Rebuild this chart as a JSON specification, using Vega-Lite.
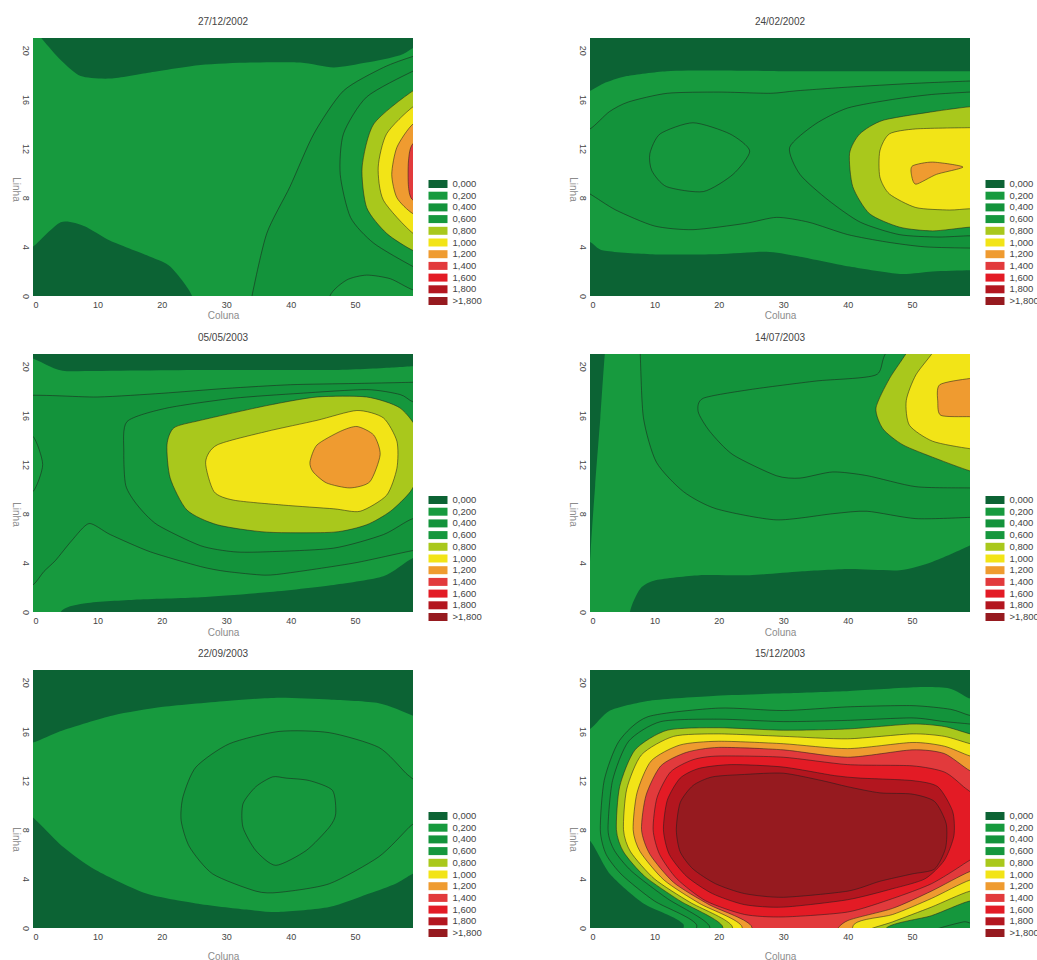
{
"$schema": "https://vega.github.io/schema/vega-lite/v6.json",
"background": "white",
"padding": {"left": 10, "top": 17, "right": 2, "bottom": 2},
"config": {
 "view": {"stroke": null, "fill": "#0c6334"},
 "font": "Liberation Sans",
 "title": {"fontSize": 10, "fontWeight": "normal", "color": "#444444", "offset": 11},
 "axis": {"grid": false, "ticks": false, "domain": false, "labelFontSize": 9, "labelColor": "#444444", "labelPadding": 4, "titleFontSize": 10, "titleFontWeight": "normal", "titleColor": "#8c8c8c"},
 "axisX": {"titleBaseline": "middle"},
 "axisY": {"labelAngle": 90, "titleAngle": 90, "titleX": -18, "titleAlign": "center", "titleBaseline": "middle"},
 "legend": {"orient": "none", "legendX": 400, "legendY": 141, "symbolType": "M-1.9,-0.8L1.9,-0.8L1.9,0.8L-1.9,0.8Z", "symbolSize": 100, "symbolStrokeWidth": 0, "symbolOpacity": 1, "labelFontSize": 9.5, "labelColor": "#444444", "labelOffset": 9.5, "rowPadding": 1.7, "padding": 0}
},
"datasets": {
 "p1": [
  {"g":1,"l":1,"x":-3,"y":24},{"g":1,"l":1,"x":0.5,"y":21.5},{"g":1,"l":1,"x":4.3,"y":19.2},{"g":1,"l":1,"x":7.4,"y":17.9},{"g":1,"l":1,"x":12,"y":17.7},{"g":1,"l":1,"x":18.2,"y":18.2},{"g":1,"l":1,"x":26,"y":18.8},{"g":1,"l":1,"x":33.7,"y":19.0},{"g":1,"l":1,"x":41.5,"y":19.0},{"g":1,"l":1,"x":46.7,"y":18.6},{"g":1,"l":1,"x":51.8,"y":19.0},{"g":1,"l":1,"x":57,"y":19.6},{"g":1,"l":1,"x":60,"y":20.5},{"g":1,"l":1,"x":63,"y":21},{"g":1,"l":1,"x":63,"y":-3},{"g":1,"l":1,"x":25,"y":-3},{"g":1,"l":1,"x":24.7,"y":0},{"g":1,"l":1,"x":21.3,"y":2.4},{"g":1,"l":1,"x":18.2,"y":3.2},{"g":1,"l":1,"x":12,"y":4.5},{"g":1,"l":1,"x":7.9,"y":5.7},{"g":1,"l":1,"x":4.3,"y":6.0},{"g":1,"l":1,"x":0,"y":4.0},{"g":1,"l":1,"x":-3,"y":3},
  {"g":2,"l":2,"x":33.2,"y":-3},{"g":2,"l":2,"x":34,"y":0},{"g":2,"l":2,"x":36.3,"y":5.1},{"g":2,"l":2,"x":39.9,"y":8.9},{"g":2,"l":2,"x":43.6,"y":13.2},{"g":2,"l":2,"x":48.2,"y":16.7},{"g":2,"l":2,"x":54.4,"y":18.6},{"g":2,"l":2,"x":59,"y":19.5},{"g":2,"l":2,"x":63,"y":20},{"g":2,"l":2,"x":63,"y":0.2},{"g":2,"l":2,"x":59,"y":0.5},{"g":2,"l":2,"x":55.5,"y":1.4},{"g":2,"l":2,"x":51.8,"y":1.7},{"g":2,"l":2,"x":48.7,"y":1.3},{"g":2,"l":2,"x":46.1,"y":0},{"g":2,"l":2,"x":45.5,"y":-3},
  {"g":3,"l":3,"x":63,"y":19},{"g":3,"l":3,"x":59,"y":18.3},{"g":3,"l":3,"x":51.8,"y":16.2},{"g":3,"l":3,"x":48.2,"y":13.2},{"g":3,"l":3,"x":47.7,"y":9.9},{"g":3,"l":3,"x":49.3,"y":6.4},{"g":3,"l":3,"x":52.9,"y":4.3},{"g":3,"l":3,"x":59,"y":2.4},{"g":3,"l":3,"x":63,"y":1.5},
  {"g":4,"l":4,"x":63,"y":17.5},{"g":4,"l":4,"x":59,"y":16.7},{"g":4,"l":4,"x":52.9,"y":14.0},{"g":4,"l":4,"x":51.1,"y":10.5},{"g":4,"l":4,"x":51.8,"y":7.2},{"g":4,"l":4,"x":54.9,"y":5.1},{"g":4,"l":4,"x":59,"y":3.7},{"g":4,"l":4,"x":63,"y":3},
  {"g":5,"l":5,"x":63,"y":16.3},{"g":5,"l":5,"x":59,"y":15.4},{"g":5,"l":5,"x":54.9,"y":13.2},{"g":5,"l":5,"x":53.6,"y":10.5},{"g":5,"l":5,"x":54.4,"y":7.8},{"g":5,"l":5,"x":59,"y":5.1},{"g":5,"l":5,"x":63,"y":4.3},
  {"g":6,"l":6,"x":63,"y":15},{"g":6,"l":6,"x":59,"y":14.0},{"g":6,"l":6,"x":56.5,"y":12.1},{"g":6,"l":6,"x":55.7,"y":9.9},{"g":6,"l":6,"x":56.5,"y":8.0},{"g":6,"l":6,"x":59,"y":6.7},{"g":6,"l":6,"x":63,"y":6},
  {"g":7,"l":7,"x":63,"y":13.5},{"g":7,"l":7,"x":59,"y":12.4},{"g":7,"l":7,"x":58.3,"y":11},{"g":7,"l":7,"x":58.3,"y":8.9},{"g":7,"l":7,"x":59,"y":7.8},{"g":7,"l":7,"x":63,"y":7}
 ],
 "p2": [
  {"g":1,"l":1,"x":-3,"y":16.3},{"g":1,"l":1,"x":0,"y":16.7},{"g":1,"l":1,"x":2.1,"y":17.3},{"g":1,"l":1,"x":5.7,"y":17.9},{"g":1,"l":1,"x":11.9,"y":18.3},{"g":1,"l":1,"x":19.6,"y":18.35},{"g":1,"l":1,"x":30,"y":18.3},{"g":1,"l":1,"x":40.3,"y":18.3},{"g":1,"l":1,"x":50.6,"y":18.3},{"g":1,"l":1,"x":59,"y":18.3},{"g":1,"l":1,"x":63,"y":18.3},{"g":1,"l":1,"x":63,"y":2.1},{"g":1,"l":1,"x":59,"y":2.1},{"g":1,"l":1,"x":53.2,"y":2.0},{"g":1,"l":1,"x":48.1,"y":1.8},{"g":1,"l":1,"x":40.3,"y":2.4},{"g":1,"l":1,"x":32.6,"y":3.2},{"g":1,"l":1,"x":27.4,"y":3.6},{"g":1,"l":1,"x":19.6,"y":3.4},{"g":1,"l":1,"x":9.3,"y":3.4},{"g":1,"l":1,"x":2.1,"y":3.7},{"g":1,"l":1,"x":0,"y":4.4},{"g":1,"l":1,"x":-3,"y":4.8},
  {"g":2,"l":2,"x":-3,"y":13.3},{"g":2,"l":2,"x":0,"y":13.6},{"g":2,"l":2,"x":3,"y":15.0},{"g":2,"l":2,"x":6,"y":15.8},{"g":2,"l":2,"x":12,"y":16.5},{"g":2,"l":2,"x":20,"y":16.6},{"g":2,"l":2,"x":28,"y":16.5},{"g":2,"l":2,"x":32,"y":16.7},{"g":2,"l":2,"x":40,"y":17.0},{"g":2,"l":2,"x":50,"y":17.3},{"g":2,"l":2,"x":59,"y":17.5},{"g":2,"l":2,"x":63,"y":17.6},{"g":2,"l":2,"x":63,"y":3.9},{"g":2,"l":2,"x":59,"y":3.9},{"g":2,"l":2,"x":52,"y":4.0},{"g":2,"l":2,"x":46,"y":4.4},{"g":2,"l":2,"x":40,"y":5.0},{"g":2,"l":2,"x":34,"y":6.0},{"g":2,"l":2,"x":29,"y":6.4},{"g":2,"l":2,"x":24,"y":5.9},{"g":2,"l":2,"x":16,"y":5.4},{"g":2,"l":2,"x":10,"y":5.7},{"g":2,"l":2,"x":4,"y":7.0},{"g":2,"l":2,"x":0,"y":8.3},{"g":2,"l":2,"x":-3,"y":9},
  {"g":3,"l":3,"x":9.3,"y":11.6},{"g":3,"l":3,"x":10.9,"y":13.2},{"g":3,"l":3,"x":16,"y":14.1},{"g":3,"l":3,"x":21.7,"y":13.2},{"g":3,"l":3,"x":24.8,"y":11.8},{"g":3,"l":3,"x":22.2,"y":9.9},{"g":3,"l":3,"x":17.6,"y":8.5},{"g":3,"l":3,"x":11.9,"y":8.9},{"g":3,"l":3,"x":9.6,"y":10.2},
  {"g":4,"l":3,"x":31,"y":12.1},{"g":4,"l":3,"x":35,"y":14.0},{"g":4,"l":3,"x":40,"y":15.3},{"g":4,"l":3,"x":47,"y":16.0},{"g":4,"l":3,"x":53,"y":16.4},{"g":4,"l":3,"x":59,"y":16.6},{"g":4,"l":3,"x":63,"y":16.7},{"g":4,"l":3,"x":63,"y":4.8},{"g":4,"l":3,"x":59,"y":4.9},{"g":4,"l":3,"x":54,"y":4.8},{"g":4,"l":3,"x":48,"y":5.0},{"g":4,"l":3,"x":42,"y":6.0},{"g":4,"l":3,"x":37,"y":7.8},{"g":4,"l":3,"x":32.6,"y":9.9},
  {"g":5,"l":4,"x":63,"y":15.5},{"g":5,"l":4,"x":58.9,"y":15.4},{"g":5,"l":4,"x":53.2,"y":15.0},{"g":5,"l":4,"x":45.5,"y":14.3},{"g":5,"l":4,"x":41.9,"y":13.2},{"g":5,"l":4,"x":40.3,"y":11.6},{"g":5,"l":4,"x":40.8,"y":8.9},{"g":5,"l":4,"x":43.4,"y":6.7},{"g":5,"l":4,"x":48.1,"y":5.6},{"g":5,"l":4,"x":53.2,"y":5.3},{"g":5,"l":4,"x":58.9,"y":5.6},{"g":5,"l":4,"x":63,"y":5.6},
  {"g":6,"l":5,"x":63,"y":13.7},{"g":6,"l":5,"x":58.9,"y":13.7},{"g":6,"l":5,"x":50.6,"y":13.6},{"g":6,"l":5,"x":46.5,"y":13.2},{"g":6,"l":5,"x":45,"y":11.8},{"g":6,"l":5,"x":45,"y":9.7},{"g":6,"l":5,"x":46.5,"y":8.3},{"g":6,"l":5,"x":50.6,"y":7.2},{"g":6,"l":5,"x":55.8,"y":7.0},{"g":6,"l":5,"x":58.9,"y":7.1},{"g":6,"l":5,"x":63,"y":7.1},
  {"g":7,"l":6,"x":50.1,"y":10.6},{"g":7,"l":6,"x":53.2,"y":10.9},{"g":7,"l":6,"x":57.9,"y":10.5},{"g":7,"l":6,"x":53.8,"y":9.9},{"g":7,"l":6,"x":50.6,"y":9.1},{"g":7,"l":6,"x":49.9,"y":9.9}
 ],
 "p3": [
  {"g":1,"l":1,"x":-3,"y":19.6},{"g":1,"l":1,"x":5.3,"y":19.6},{"g":1,"l":1,"x":26,"y":19.7},{"g":1,"l":1,"x":46.7,"y":19.7},{"g":1,"l":1,"x":56,"y":19.9},{"g":1,"l":1,"x":59,"y":20},{"g":1,"l":1,"x":63,"y":20},{"g":1,"l":1,"x":63,"y":4.8},{"g":1,"l":1,"x":59,"y":4.4},{"g":1,"l":1,"x":54.4,"y":2.9},{"g":1,"l":1,"x":46.7,"y":2.2},{"g":1,"l":1,"x":36.3,"y":1.6},{"g":1,"l":1,"x":26,"y":1.2},{"g":1,"l":1,"x":15.7,"y":1.0},{"g":1,"l":1,"x":7.9,"y":0.7},{"g":1,"l":1,"x":4.3,"y":0},{"g":1,"l":1,"x":4,"y":-3},{"g":1,"l":1,"x":-3,"y":-3},
  {"g":2,"l":2,"x":-3,"y":17.5},{"g":2,"l":2,"x":10,"y":17.5},{"g":2,"l":2,"x":20,"y":17.8},{"g":2,"l":2,"x":30,"y":18.2},{"g":2,"l":2,"x":40,"y":18.5},{"g":2,"l":2,"x":50,"y":18.6},{"g":2,"l":2,"x":59,"y":18.7},{"g":2,"l":2,"x":63,"y":18.8},{"g":2,"l":2,"x":63,"y":5.2},{"g":2,"l":2,"x":59,"y":5.0},{"g":2,"l":2,"x":50,"y":4.0},{"g":2,"l":2,"x":40,"y":3.2},{"g":2,"l":2,"x":36,"y":3.0},{"g":2,"l":2,"x":30,"y":3.3},{"g":2,"l":2,"x":26,"y":3.7},{"g":2,"l":2,"x":18.2,"y":4.9},{"g":2,"l":2,"x":12,"y":6.3},{"g":2,"l":2,"x":8.7,"y":7.2},{"g":2,"l":2,"x":6,"y":5.8},{"g":2,"l":2,"x":3.5,"y":4.2},{"g":2,"l":2,"x":1.7,"y":3.3},{"g":2,"l":2,"x":0,"y":2.2},{"g":2,"l":2,"x":-3,"y":1.5},{"g":2,"l":2,"x":-3,"y":9.5},{"g":2,"l":2,"x":0,"y":9.8},{"g":2,"l":2,"x":1.5,"y":12},{"g":2,"l":2,"x":0,"y":14.3},{"g":2,"l":2,"x":-3,"y":14.6},
  {"g":3,"l":3,"x":14.6,"y":15.5},{"g":3,"l":3,"x":20.8,"y":16.6},{"g":3,"l":3,"x":31.2,"y":17.4},{"g":3,"l":3,"x":41.5,"y":17.8},{"g":3,"l":3,"x":51.8,"y":18.1},{"g":3,"l":3,"x":57,"y":17.7},{"g":3,"l":3,"x":59,"y":17.1},{"g":3,"l":3,"x":63,"y":16.5},{"g":3,"l":3,"x":63,"y":7.5},{"g":3,"l":3,"x":59,"y":7.6},{"g":3,"l":3,"x":54.4,"y":6.3},{"g":3,"l":3,"x":46.7,"y":5.2},{"g":3,"l":3,"x":36.3,"y":4.9},{"g":3,"l":3,"x":31.2,"y":4.9},{"g":3,"l":3,"x":26,"y":5.4},{"g":3,"l":3,"x":19.3,"y":7.1},{"g":3,"l":3,"x":16.2,"y":8.7},{"g":3,"l":3,"x":14.4,"y":10.3},{"g":3,"l":3,"x":14.1,"y":13.0},
  {"g":4,"l":4,"x":20.8,"y":13.6},{"g":4,"l":4,"x":21.9,"y":15.0},{"g":4,"l":4,"x":26,"y":15.6},{"g":4,"l":4,"x":36.3,"y":16.8},{"g":4,"l":4,"x":44.1,"y":17.5},{"g":4,"l":4,"x":51.8,"y":17.5},{"g":4,"l":4,"x":57,"y":16.6},{"g":4,"l":4,"x":60,"y":14.5},{"g":4,"l":4,"x":60,"y":11.5},{"g":4,"l":4,"x":58.6,"y":9.8},{"g":4,"l":4,"x":55.5,"y":8.2},{"g":4,"l":4,"x":51.8,"y":7.1},{"g":4,"l":4,"x":46.7,"y":6.5},{"g":4,"l":4,"x":36.3,"y":6.5},{"g":4,"l":4,"x":28.6,"y":7.1},{"g":4,"l":4,"x":23.9,"y":8.3},{"g":4,"l":4,"x":21.3,"y":10.9},
  {"g":5,"l":5,"x":26.8,"y":12.2},{"g":5,"l":5,"x":28.6,"y":13.6},{"g":5,"l":5,"x":36.3,"y":14.7},{"g":5,"l":5,"x":44.1,"y":15.6},{"g":5,"l":5,"x":50.3,"y":16.4},{"g":5,"l":5,"x":54.4,"y":15.8},{"g":5,"l":5,"x":56.5,"y":13.9},{"g":5,"l":5,"x":56.5,"y":11.7},{"g":5,"l":5,"x":54.9,"y":9.5},{"g":5,"l":5,"x":50.8,"y":8.2},{"g":5,"l":5,"x":46.7,"y":8.4},{"g":5,"l":5,"x":38.9,"y":8.7},{"g":5,"l":5,"x":31.2,"y":9.1},{"g":5,"l":5,"x":28.1,"y":9.8},
  {"g":6,"l":6,"x":43,"y":12.2},{"g":6,"l":6,"x":44.1,"y":13.6},{"g":6,"l":6,"x":47.7,"y":14.7},{"g":6,"l":6,"x":50.3,"y":15.1},{"g":6,"l":6,"x":52.9,"y":14.4},{"g":6,"l":6,"x":53.9,"y":12.8},{"g":6,"l":6,"x":52.3,"y":10.6},{"g":6,"l":6,"x":49.2,"y":10.1},{"g":6,"l":6,"x":45.6,"y":10.5},{"g":6,"l":6,"x":43.5,"y":11.4}
 ],
 "p4": [
  {"g":1,"l":1,"x":3,"y":24},{"g":1,"l":1,"x":2.3,"y":21},{"g":1,"l":1,"x":1.6,"y":15.8},{"g":1,"l":1,"x":0.8,"y":10.3},{"g":1,"l":1,"x":0.1,"y":4.9},{"g":1,"l":1,"x":-0.5,"y":-3},{"g":1,"l":1,"x":6,"y":-3},{"g":1,"l":1,"x":6.2,"y":0},{"g":1,"l":1,"x":7.8,"y":1.9},{"g":1,"l":1,"x":10.3,"y":2.6},{"g":1,"l":1,"x":17,"y":3.0},{"g":1,"l":1,"x":24.8,"y":3.0},{"g":1,"l":1,"x":32.6,"y":3.3},{"g":1,"l":1,"x":40.3,"y":3.5},{"g":1,"l":1,"x":48.1,"y":3.4},{"g":1,"l":1,"x":53.2,"y":4.1},{"g":1,"l":1,"x":58.9,"y":5.4},{"g":1,"l":1,"x":63,"y":6.5},{"g":1,"l":1,"x":63,"y":24},
  {"g":2,"l":2,"x":7.6,"y":24},{"g":2,"l":2,"x":7.8,"y":21},{"g":2,"l":2,"x":8.3,"y":15.8},{"g":2,"l":2,"x":10.3,"y":12.2},{"g":2,"l":2,"x":14.5,"y":9.8},{"g":2,"l":2,"x":19.6,"y":8.4},{"g":2,"l":2,"x":28.9,"y":7.5},{"g":2,"l":2,"x":37.7,"y":8.0},{"g":2,"l":2,"x":43,"y":8.2},{"g":2,"l":2,"x":50.6,"y":7.6},{"g":2,"l":2,"x":58.9,"y":7.7},{"g":2,"l":2,"x":63,"y":7.8},{"g":2,"l":2,"x":63,"y":24},
  {"g":3,"l":3,"x":17.6,"y":17.4},{"g":3,"l":3,"x":24.8,"y":18.1},{"g":3,"l":3,"x":35.1,"y":18.8},{"g":3,"l":3,"x":44.4,"y":19.3},{"g":3,"l":3,"x":47,"y":21.5},{"g":3,"l":3,"x":63,"y":23},{"g":3,"l":3,"x":63,"y":10.1},{"g":3,"l":3,"x":58.9,"y":10.1},{"g":3,"l":3,"x":50.6,"y":10.2},{"g":3,"l":3,"x":43,"y":11.1},{"g":3,"l":3,"x":37.7,"y":11.4},{"g":3,"l":3,"x":32.6,"y":10.9},{"g":3,"l":3,"x":28.9,"y":11.1},{"g":3,"l":3,"x":22.2,"y":12.8},{"g":3,"l":3,"x":18.6,"y":14.7},{"g":3,"l":3,"x":16.8,"y":16.3},
  {"g":4,"l":4,"x":49.6,"y":21.5},{"g":4,"l":4,"x":46.5,"y":19.0},{"g":4,"l":4,"x":44.4,"y":16.6},{"g":4,"l":4,"x":45.5,"y":14.9},{"g":4,"l":4,"x":48.6,"y":13.6},{"g":4,"l":4,"x":53.7,"y":12.5},{"g":4,"l":4,"x":58.9,"y":11.5},{"g":4,"l":4,"x":63,"y":11},{"g":4,"l":4,"x":63,"y":23},{"g":4,"l":4,"x":50,"y":23},
  {"g":5,"l":5,"x":53.7,"y":21.5},{"g":5,"l":5,"x":50.6,"y":19.3},{"g":5,"l":5,"x":49.1,"y":17.2},{"g":5,"l":5,"x":49.6,"y":15.2},{"g":5,"l":5,"x":53.2,"y":13.9},{"g":5,"l":5,"x":58.9,"y":13.3},{"g":5,"l":5,"x":63,"y":13.2},{"g":5,"l":5,"x":63,"y":23},{"g":5,"l":5,"x":54,"y":23},
  {"g":6,"l":6,"x":63,"y":19.1},{"g":6,"l":6,"x":58.9,"y":19.0},{"g":6,"l":6,"x":54.3,"y":18.5},{"g":6,"l":6,"x":54,"y":17.1},{"g":6,"l":6,"x":54.5,"y":16.0},{"g":6,"l":6,"x":58.9,"y":15.9},{"g":6,"l":6,"x":63,"y":15.9}
 ],
 "p5": [
  {"g":1,"l":1,"x":-3,"y":15},{"g":1,"l":1,"x":0,"y":15.1},{"g":1,"l":1,"x":4.7,"y":16.1},{"g":1,"l":1,"x":12.4,"y":17.3},{"g":1,"l":1,"x":20.2,"y":18.0},{"g":1,"l":1,"x":30.5,"y":18.5},{"g":1,"l":1,"x":38.2,"y":18.75},{"g":1,"l":1,"x":46,"y":18.6},{"g":1,"l":1,"x":53.7,"y":18.3},{"g":1,"l":1,"x":58.9,"y":17.3},{"g":1,"l":1,"x":62,"y":16.5},{"g":1,"l":1,"x":62,"y":5},{"g":1,"l":1,"x":58.9,"y":4.4},{"g":1,"l":1,"x":56.3,"y":3.6},{"g":1,"l":1,"x":52.2,"y":2.8},{"g":1,"l":1,"x":46,"y":1.7},{"g":1,"l":1,"x":38.2,"y":1.3},{"g":1,"l":1,"x":33.1,"y":1.5},{"g":1,"l":1,"x":25.3,"y":2.0},{"g":1,"l":1,"x":17.6,"y":2.8},{"g":1,"l":1,"x":9.8,"y":4.7},{"g":1,"l":1,"x":4.7,"y":6.6},{"g":1,"l":1,"x":0,"y":9.0},{"g":1,"l":1,"x":-3,"y":10},
  {"g":2,"l":2,"x":23.3,"y":10.7},{"g":2,"l":2,"x":25.3,"y":13.1},{"g":2,"l":2,"x":30.5,"y":15.0},{"g":2,"l":2,"x":38.2,"y":16.0},{"g":2,"l":2,"x":46,"y":15.9},{"g":2,"l":2,"x":53.7,"y":14.7},{"g":2,"l":2,"x":57.9,"y":12.6},{"g":2,"l":2,"x":60,"y":11.5},{"g":2,"l":2,"x":60,"y":9},{"g":2,"l":2,"x":58.4,"y":8.2},{"g":2,"l":2,"x":53.7,"y":5.8},{"g":2,"l":2,"x":46,"y":3.6},{"g":2,"l":2,"x":38.2,"y":2.9},{"g":2,"l":2,"x":34.6,"y":3.0},{"g":2,"l":2,"x":27.9,"y":4.4},{"g":2,"l":2,"x":24.3,"y":6.6},{"g":2,"l":2,"x":23,"y":8.75},
  {"g":3,"l":3,"x":37.2,"y":12.3},{"g":3,"l":3,"x":39.3,"y":12.2},{"g":3,"l":3,"x":42.9,"y":12.0},{"g":3,"l":3,"x":46.5,"y":11.2},{"g":3,"l":3,"x":47,"y":9.3},{"g":3,"l":3,"x":46,"y":8.2},{"g":3,"l":3,"x":42.4,"y":6.3},{"g":3,"l":3,"x":37.7,"y":5.1},{"g":3,"l":3,"x":34.6,"y":6.3},{"g":3,"l":3,"x":32.6,"y":8.2},{"g":3,"l":3,"x":32.6,"y":10.1},{"g":3,"l":3,"x":34.6,"y":11.5}
 ],
 "p6": [
  {"g":1,"l":1,"x":-3,"y":16},{"g":1,"l":1,"x":0,"y":16.2},{"g":1,"l":1,"x":3.1,"y":17.7},{"g":1,"l":1,"x":9.3,"y":18.5},{"g":1,"l":1,"x":19.6,"y":18.9},{"g":1,"l":1,"x":30,"y":19.1},{"g":1,"l":1,"x":40.3,"y":19.3},{"g":1,"l":1,"x":50.6,"y":19.6},{"g":1,"l":1,"x":55.8,"y":19.5},{"g":1,"l":1,"x":58.8,"y":18.7},{"g":1,"l":1,"x":62,"y":18},{"g":1,"l":1,"x":62,"y":-3},{"g":1,"l":1,"x":15,"y":-3},{"g":1,"l":1,"x":14.5,"y":0.3},{"g":1,"l":1,"x":8.3,"y":2.0},{"g":1,"l":1,"x":3.1,"y":4.4},{"g":1,"l":1,"x":0,"y":7.1},{"g":1,"l":1,"x":-3,"y":7.5},
  {"g":2,"l":2,"x":1.6,"y":8},{"g":2,"l":2,"x":2.2,"y":12},{"g":2,"l":2,"x":4.5,"y":15.2},{"g":2,"l":2,"x":9,"y":17.2},{"g":2,"l":2,"x":20,"y":17.9},{"g":2,"l":2,"x":30,"y":17.7},{"g":2,"l":2,"x":40,"y":18.0},{"g":2,"l":2,"x":50,"y":18.1},{"g":2,"l":2,"x":56,"y":17.8},{"g":2,"l":2,"x":59,"y":17.3},{"g":2,"l":2,"x":63,"y":17},{"g":2,"l":2,"x":63,"y":-3},{"g":2,"l":2,"x":17,"y":-3},{"g":2,"l":2,"x":16.5,"y":0.3},{"g":2,"l":2,"x":10,"y":2.2},{"g":2,"l":2,"x":5,"y":4.3},{"g":2,"l":2,"x":2.5,"y":6},
  {"g":3,"l":3,"x":2.8,"y":8},{"g":3,"l":3,"x":3.5,"y":12},{"g":3,"l":3,"x":6,"y":15.2},{"g":3,"l":3,"x":11,"y":16.8},{"g":3,"l":3,"x":20,"y":17.0},{"g":3,"l":3,"x":30,"y":16.8},{"g":3,"l":3,"x":40,"y":16.9},{"g":3,"l":3,"x":50,"y":17.1},{"g":3,"l":3,"x":55,"y":16.8},{"g":3,"l":3,"x":59,"y":16.6},{"g":3,"l":3,"x":63,"y":16.3},{"g":3,"l":3,"x":63,"y":0.8},{"g":3,"l":3,"x":58,"y":0.5},{"g":3,"l":3,"x":52,"y":-0.5},{"g":3,"l":3,"x":48,"y":-3},{"g":3,"l":3,"x":19,"y":-3},{"g":3,"l":3,"x":18.5,"y":0.2},{"g":3,"l":3,"x":12,"y":2.4},{"g":3,"l":3,"x":6.5,"y":4.6},{"g":3,"l":3,"x":3.8,"y":6.3},
  {"g":4,"l":4,"x":4.1,"y":8},{"g":4,"l":4,"x":4.6,"y":11.5},{"g":4,"l":4,"x":7,"y":14.5},{"g":4,"l":4,"x":12,"y":16.1},{"g":4,"l":4,"x":20,"y":16.3},{"g":4,"l":4,"x":30,"y":16.1},{"g":4,"l":4,"x":40,"y":16.2},{"g":4,"l":4,"x":50,"y":16.6},{"g":4,"l":4,"x":55,"y":16.4},{"g":4,"l":4,"x":59,"y":15.8},{"g":4,"l":4,"x":63,"y":15.3},{"g":4,"l":4,"x":63,"y":2},{"g":4,"l":4,"x":59,"y":2.2},{"g":4,"l":4,"x":53,"y":1.0},{"g":4,"l":4,"x":46,"y":0},{"g":4,"l":4,"x":44,"y":-3},{"g":4,"l":4,"x":21,"y":-3},{"g":4,"l":4,"x":20.5,"y":0.2},{"g":4,"l":4,"x":14,"y":2.2},{"g":4,"l":4,"x":8.5,"y":4.2},{"g":4,"l":4,"x":5.2,"y":6.2},
  {"g":5,"l":5,"x":5.2,"y":8},{"g":5,"l":5,"x":5.7,"y":11.3},{"g":5,"l":5,"x":8,"y":14.1},{"g":5,"l":5,"x":13,"y":15.6},{"g":5,"l":5,"x":20,"y":15.8},{"g":5,"l":5,"x":30,"y":15.6},{"g":5,"l":5,"x":40,"y":15.4},{"g":5,"l":5,"x":50,"y":15.8},{"g":5,"l":5,"x":55,"y":15.6},{"g":5,"l":5,"x":59,"y":15.0},{"g":5,"l":5,"x":63,"y":14.5},{"g":5,"l":5,"x":63,"y":3},{"g":5,"l":5,"x":59,"y":3.0},{"g":5,"l":5,"x":53,"y":1.7},{"g":5,"l":5,"x":47,"y":0.5},{"g":5,"l":5,"x":42,"y":-0.5},{"g":5,"l":5,"x":41,"y":-3},{"g":5,"l":5,"x":22.5,"y":-3},{"g":5,"l":5,"x":22,"y":0.2},{"g":5,"l":5,"x":15.5,"y":2.1},{"g":5,"l":5,"x":10,"y":4},{"g":5,"l":5,"x":6.3,"y":6.2},
  {"g":6,"l":6,"x":6.7,"y":8},{"g":6,"l":6,"x":7.3,"y":11},{"g":6,"l":6,"x":9.5,"y":13.6},{"g":6,"l":6,"x":14,"y":14.9},{"g":6,"l":6,"x":20,"y":15.2},{"g":6,"l":6,"x":30,"y":15.0},{"g":6,"l":6,"x":40,"y":14.6},{"g":6,"l":6,"x":50,"y":15.1},{"g":6,"l":6,"x":55,"y":14.8},{"g":6,"l":6,"x":59,"y":14.0},{"g":6,"l":6,"x":63,"y":13.5},{"g":6,"l":6,"x":63,"y":4},{"g":6,"l":6,"x":59,"y":3.9},{"g":6,"l":6,"x":53,"y":2.4},{"g":6,"l":6,"x":47,"y":1.1},{"g":6,"l":6,"x":41,"y":0.3},{"g":6,"l":6,"x":39.5,"y":-3},{"g":6,"l":6,"x":24,"y":-3},{"g":6,"l":6,"x":23.5,"y":0.2},{"g":6,"l":6,"x":17,"y":2.0},{"g":6,"l":6,"x":11.5,"y":3.9},{"g":6,"l":6,"x":7.8,"y":6.2},
  {"g":7,"l":7,"x":8,"y":8},{"g":7,"l":7,"x":8.7,"y":10.8},{"g":7,"l":7,"x":11,"y":13.2},{"g":7,"l":7,"x":15,"y":14.3},{"g":7,"l":7,"x":20,"y":14.7},{"g":7,"l":7,"x":30,"y":14.5},{"g":7,"l":7,"x":40,"y":13.9},{"g":7,"l":7,"x":50,"y":14.5},{"g":7,"l":7,"x":55,"y":14.2},{"g":7,"l":7,"x":59,"y":12.8},{"g":7,"l":7,"x":63,"y":12},{"g":7,"l":7,"x":63,"y":5},{"g":7,"l":7,"x":59,"y":4.6},{"g":7,"l":7,"x":53,"y":3.0},{"g":7,"l":7,"x":47,"y":1.6},{"g":7,"l":7,"x":40,"y":0.6},{"g":7,"l":7,"x":38,"y":-0.5},{"g":7,"l":7,"x":38,"y":-3},{"g":7,"l":7,"x":25.5,"y":-3},{"g":7,"l":7,"x":25,"y":0.2},{"g":7,"l":7,"x":18.5,"y":1.9},{"g":7,"l":7,"x":13,"y":3.7},{"g":7,"l":7,"x":9.3,"y":6.0},
  {"g":8,"l":8,"x":9.8,"y":8},{"g":8,"l":8,"x":10.4,"y":10.6},{"g":8,"l":8,"x":12.5,"y":12.7},{"g":8,"l":8,"x":16,"y":13.7},{"g":8,"l":8,"x":20,"y":14.0},{"g":8,"l":8,"x":30,"y":13.9},{"g":8,"l":8,"x":40,"y":13.3},{"g":8,"l":8,"x":50,"y":13.2},{"g":8,"l":8,"x":55,"y":12.7},{"g":8,"l":8,"x":58,"y":11.5},{"g":8,"l":8,"x":61,"y":10},{"g":8,"l":8,"x":61,"y":6.5},{"g":8,"l":8,"x":58,"y":5.2},{"g":8,"l":8,"x":53,"y":3.6},{"g":8,"l":8,"x":47,"y":2.4},{"g":8,"l":8,"x":40,"y":1.3},{"g":8,"l":8,"x":30,"y":0.9},{"g":8,"l":8,"x":24,"y":1.1},{"g":8,"l":8,"x":18,"y":2.2},{"g":8,"l":8,"x":13.5,"y":4.0},{"g":8,"l":8,"x":10.8,"y":6.0},
  {"g":9,"l":9,"x":11.4,"y":8},{"g":9,"l":9,"x":12,"y":10.4},{"g":9,"l":9,"x":14,"y":12.2},{"g":9,"l":9,"x":17,"y":13.0},{"g":9,"l":9,"x":22,"y":13.3},{"g":9,"l":9,"x":30,"y":13.1},{"g":9,"l":9,"x":38,"y":12.4},{"g":9,"l":9,"x":42,"y":12.2},{"g":9,"l":9,"x":50,"y":12.0},{"g":9,"l":9,"x":54,"y":11.5},{"g":9,"l":9,"x":56.3,"y":9.5},{"g":9,"l":9,"x":56.5,"y":7.5},{"g":9,"l":9,"x":55,"y":5.5},{"g":9,"l":9,"x":52,"y":4.0},{"g":9,"l":9,"x":47,"y":3.2},{"g":9,"l":9,"x":40,"y":2.3},{"g":9,"l":9,"x":30,"y":1.7},{"g":9,"l":9,"x":24,"y":1.9},{"g":9,"l":9,"x":19,"y":2.8},{"g":9,"l":9,"x":15,"y":4.2},{"g":9,"l":9,"x":12.3,"y":6.0},
  {"g":10,"l":10,"x":13.4,"y":8},{"g":10,"l":10,"x":14,"y":10.2},{"g":10,"l":10,"x":16,"y":11.6},{"g":10,"l":10,"x":19,"y":12.3},{"g":10,"l":10,"x":24,"y":12.5},{"g":10,"l":10,"x":30,"y":12.6},{"g":10,"l":10,"x":36,"y":12.0},{"g":10,"l":10,"x":40,"y":11.5},{"g":10,"l":10,"x":45,"y":11.0},{"g":10,"l":10,"x":50,"y":10.9},{"g":10,"l":10,"x":53.5,"y":10.3},{"g":10,"l":10,"x":55.3,"y":8.5},{"g":10,"l":10,"x":55.2,"y":6.5},{"g":10,"l":10,"x":53.5,"y":4.8},{"g":10,"l":10,"x":50,"y":4.4},{"g":10,"l":10,"x":45,"y":3.8},{"g":10,"l":10,"x":40,"y":3.0},{"g":10,"l":10,"x":30,"y":2.5},{"g":10,"l":10,"x":24,"y":2.8},{"g":10,"l":10,"x":19.5,"y":3.6},{"g":10,"l":10,"x":16,"y":4.8},{"g":10,"l":10,"x":14,"y":6.2}
 ]
},
"columns": 2,
"spacing": {"row": 58, "column": 177},
"bounds": "flush",
"resolve": {"scale": {"fill": "independent"}, "legend": {"fill": "independent"}},
"concat": [
 {"title": "27/12/2002", "width": 380, "height": 258, "data": {"name": "p1"},
  "mark": {"type": "line", "interpolate": "cardinal-closed", "tension": 0.3, "clip": true, "stroke": "#1c1c1c", "strokeWidth": 0.7},
  "encoding": {
   "x": {"field": "x", "type": "quantitative", "scale": {"domain": [0, 59], "nice": false, "zero": false}, "axis": {"values": [0,10,20,30,40,50], "title": "Coluna", "titleY": 19}},
   "y": {"field": "y", "type": "quantitative", "scale": {"domain": [0, 21], "nice": false}, "axis": {"values": [0,4,8,12,16,20], "title": "Linha", "titleY": 151}},
   "fill": {"field": "l", "type": "nominal", "scale": {"domain": [0,1,2,3,4,5,6,7,8,9,10], "range": ["#0c6334","#179a3e","#13933b","#15973d","#a9c81c","#f2e417","#ef9b30","#e23a3c","#e31b25","#b3161f","#961a1f"]}, "legend": {"title": null, "labelExpr": "['0,000','0,200','0,400','0,600','0,800','1,000','1,200','1,400','1,600','1,800','>1,800'][datum.value]"}},
   "detail": {"field": "g"},
   "order": {"value": null},
   "strokeOpacity": {"condition": {"test": "datum.l == 1", "value": 0}, "value": 0.75}
  }},
 {"title": "24/02/2002", "width": 380, "height": 258, "data": {"name": "p2"},
  "mark": {"type": "line", "interpolate": "cardinal-closed", "tension": 0.3, "clip": true, "stroke": "#1c1c1c", "strokeWidth": 0.7},
  "encoding": {
   "x": {"field": "x", "type": "quantitative", "scale": {"domain": [0, 59], "nice": false, "zero": false}, "axis": {"values": [0,10,20,30,40,50], "title": "Coluna", "titleY": 19}},
   "y": {"field": "y", "type": "quantitative", "scale": {"domain": [0, 21], "nice": false}, "axis": {"values": [0,4,8,12,16,20], "title": "Linha", "titleY": 151}},
   "fill": {"field": "l", "type": "nominal", "scale": {"domain": [0,1,2,3,4,5,6,7,8,9,10], "range": ["#0c6334","#179a3e","#13933b","#15973d","#a9c81c","#f2e417","#ef9b30","#e23a3c","#e31b25","#b3161f","#961a1f"]}, "legend": {"title": null, "labelExpr": "['0,000','0,200','0,400','0,600','0,800','1,000','1,200','1,400','1,600','1,800','>1,800'][datum.value]"}},
   "detail": {"field": "g"},
   "order": {"value": null},
   "strokeOpacity": {"condition": {"test": "datum.l == 1", "value": 0}, "value": 0.75}
  }},
 {"title": "05/05/2003", "width": 380, "height": 258, "data": {"name": "p3"},
  "mark": {"type": "line", "interpolate": "cardinal-closed", "tension": 0.3, "clip": true, "stroke": "#1c1c1c", "strokeWidth": 0.7},
  "encoding": {
   "x": {"field": "x", "type": "quantitative", "scale": {"domain": [0, 59], "nice": false, "zero": false}, "axis": {"values": [0,10,20,30,40,50], "title": "Coluna", "titleY": 20}},
   "y": {"field": "y", "type": "quantitative", "scale": {"domain": [0, 21], "nice": false}, "axis": {"values": [0,4,8,12,16,20], "title": "Linha", "titleY": 160}},
   "fill": {"field": "l", "type": "nominal", "scale": {"domain": [0,1,2,3,4,5,6,7,8,9,10], "range": ["#0c6334","#179a3e","#13933b","#15973d","#a9c81c","#f2e417","#ef9b30","#e23a3c","#e31b25","#b3161f","#961a1f"]}, "legend": {"title": null, "labelExpr": "['0,000','0,200','0,400','0,600','0,800','1,000','1,200','1,400','1,600','1,800','>1,800'][datum.value]"}},
   "detail": {"field": "g"},
   "order": {"value": null},
   "strokeOpacity": {"condition": {"test": "datum.l == 1", "value": 0}, "value": 0.75}
  }},
 {"title": "14/07/2003", "width": 380, "height": 258, "data": {"name": "p4"},
  "mark": {"type": "line", "interpolate": "cardinal-closed", "tension": 0.3, "clip": true, "stroke": "#1c1c1c", "strokeWidth": 0.7},
  "encoding": {
   "x": {"field": "x", "type": "quantitative", "scale": {"domain": [0, 59], "nice": false, "zero": false}, "axis": {"values": [0,10,20,30,40,50], "title": "Coluna", "titleY": 20}},
   "y": {"field": "y", "type": "quantitative", "scale": {"domain": [0, 21], "nice": false}, "axis": {"values": [0,4,8,12,16,20], "title": "Linha", "titleY": 160}},
   "fill": {"field": "l", "type": "nominal", "scale": {"domain": [0,1,2,3,4,5,6,7,8,9,10], "range": ["#0c6334","#179a3e","#13933b","#15973d","#a9c81c","#f2e417","#ef9b30","#e23a3c","#e31b25","#b3161f","#961a1f"]}, "legend": {"title": null, "labelExpr": "['0,000','0,200','0,400','0,600','0,800','1,000','1,200','1,400','1,600','1,800','>1,800'][datum.value]"}},
   "detail": {"field": "g"},
   "order": {"value": null},
   "strokeOpacity": {"condition": {"test": "datum.l == 1", "value": 0}, "value": 0.75}
  }},
 {"title": "22/09/2003", "width": 380, "height": 258, "data": {"name": "p5"},
  "mark": {"type": "line", "interpolate": "cardinal-closed", "tension": 0.3, "clip": true, "stroke": "#1c1c1c", "strokeWidth": 0.7},
  "encoding": {
   "x": {"field": "x", "type": "quantitative", "scale": {"domain": [0, 59], "nice": false, "zero": false}, "axis": {"values": [0,10,20,30,40,50], "title": "Coluna", "titleY": 28}},
   "y": {"field": "y", "type": "quantitative", "scale": {"domain": [0, 21], "nice": false}, "axis": {"values": [0,4,8,12,16,20], "title": "Linha", "titleY": 169}},
   "fill": {"field": "l", "type": "nominal", "scale": {"domain": [0,1,2,3,4,5,6,7,8,9,10], "range": ["#0c6334","#179a3e","#13933b","#15973d","#a9c81c","#f2e417","#ef9b30","#e23a3c","#e31b25","#b3161f","#961a1f"]}, "legend": {"title": null, "labelExpr": "['0,000','0,200','0,400','0,600','0,800','1,000','1,200','1,400','1,600','1,800','>1,800'][datum.value]"}},
   "detail": {"field": "g"},
   "order": {"value": null},
   "strokeOpacity": {"condition": {"test": "datum.l == 1", "value": 0}, "value": 0.75}
  }},
 {"title": "15/12/2003", "width": 380, "height": 258, "data": {"name": "p6"},
  "mark": {"type": "line", "interpolate": "cardinal-closed", "tension": 0.3, "clip": true, "stroke": "#1c1c1c", "strokeWidth": 0.7},
  "encoding": {
   "x": {"field": "x", "type": "quantitative", "scale": {"domain": [0, 59], "nice": false, "zero": false}, "axis": {"values": [0,10,20,30,40,50], "title": "Coluna", "titleY": 28}},
   "y": {"field": "y", "type": "quantitative", "scale": {"domain": [0, 21], "nice": false}, "axis": {"values": [0,4,8,12,16,20], "title": "Linha", "titleY": 169}},
   "fill": {"field": "l", "type": "nominal", "scale": {"domain": [0,1,2,3,4,5,6,7,8,9,10], "range": ["#0c6334","#179a3e","#13933b","#15973d","#a9c81c","#f2e417","#ef9b30","#e23a3c","#e31b25","#b3161f","#961a1f"]}, "legend": {"title": null, "labelExpr": "['0,000','0,200','0,400','0,600','0,800','1,000','1,200','1,400','1,600','1,800','>1,800'][datum.value]"}},
   "detail": {"field": "g"},
   "order": {"value": null},
   "strokeOpacity": {"condition": {"test": "datum.l == 1", "value": 0}, "value": 0.75}
  }}
]
}
